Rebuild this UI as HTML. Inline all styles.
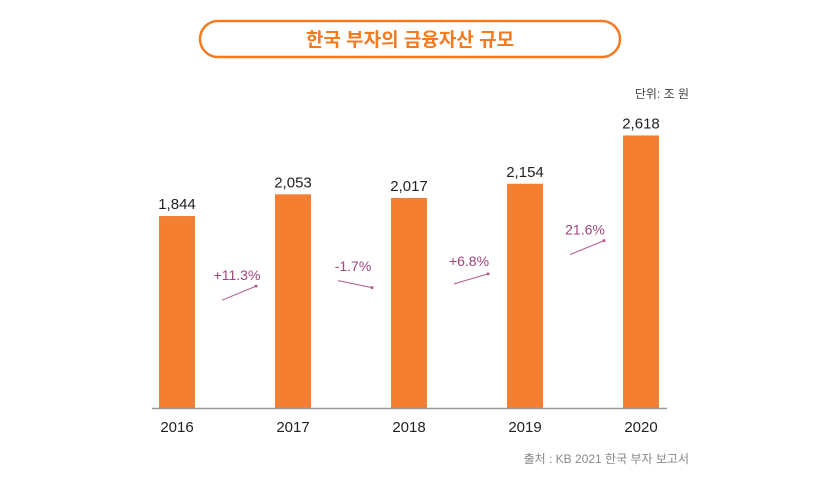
<!DOCTYPE html>
<html><head><meta charset="utf-8"><style>
body{margin:0;background:#fff;width:820px;height:497px;overflow:hidden;font-family:"Liberation Sans","Noto Sans CJK KR",sans-serif}
</style></head><body>
<svg width="820" height="497">
<rect x="200" y="21" width="420" height="36" rx="18" fill="#fff" stroke="#f47a20" stroke-width="2.5"/>
<text x="410" y="46" text-anchor="middle" font-size="19" font-weight="bold" fill="#f47a20" font-family="Liberation Sans, Noto Sans CJK KR, sans-serif">한국 부자의 금융자산 규모</text>
<text x="689" y="98" text-anchor="end" font-size="12" fill="#444">단위: 조 원</text>
<g id="bars"></g>
<line x1="152" y1="408.5" x2="667" y2="408.5" stroke="#999" stroke-width="1.5"/>
<text x="689" y="463" text-anchor="end" font-size="12" fill="#888">출처 : KB 2021 한국 부자 보고서</text>
</svg>
<script>
const years=["2016","2017","2018","2019","2020"];
const values=[1844,2053,2017,2154,2618];
const growth=["+11.3%","-1.7%","+6.8%","21.6%"];
const ns="http://www.w3.org/2000/svg";
const g=document.getElementById('bars');
const y=v=>408-v*0.1041;
const xc=i=>177+i*116;
function mk(t,a){const e=document.createElementNS(ns,t);for(const k in a)e.setAttribute(k,a[k]);g.appendChild(e);return e;}
values.forEach((v,i)=>{
 const r=mk('rect',{x:xc(i)-18,y:y(v),width:36,height:408-y(v),fill:'#f47f30'});
 
 
 const t=mk('text',{x:xc(i),y:y(v)-7,'text-anchor':'middle','font-size':15,fill:'#222'});
 t.textContent=v.toLocaleString('en-US');
 
 
 const l=mk('text',{x:xc(i),y:432,'text-anchor':'middle','font-size':15,fill:'#222'});
 l.textContent=years[i];
 
 
});
growth.forEach((s,i)=>{
 const x0=xc(i)+45,x1=xc(i+1)-37;
 const d=y(values[i+1])-y(values[i]);
 const mag=Math.min(14,Math.max(7,Math.abs(d)*0.7));
 const dy=Math.sign(d)*mag;
 const my=y((values[i]+values[i+1])/2)+88;
 const a=mk('line',{x1:x0,y1:my-dy/2,x2:x1,y2:my+dy/2,stroke:'#b05a90','stroke-width':1});
 
 
 const h=mk('circle',{cx:x1,cy:my+dy/2,r:1.5,fill:'#b05a90'});
 
 
 const t=mk('text',{x:(x0+x1)/2-2,y:my-13,'text-anchor':'middle','font-size':14,fill:'#a0457e'});
 t.textContent=s;
 
 
});
</script>
</body></html>
